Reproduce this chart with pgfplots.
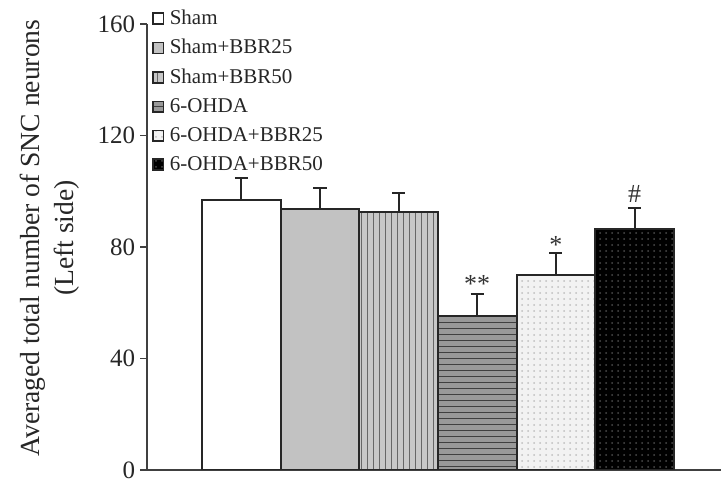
\documentclass[border=0pt]{standalone}
\usepackage{fontspec}
\setmainfont{Liberation Serif}
\usepackage{pgfplots}
\pgfplotsset{compat=1.18}
\usetikzlibrary{patterns}
\begin{document}
\begin{tikzpicture}
\begin{axis}[
  name=ax,
  width=287pt, height=223pt, scale only axis,
  xmin=-1.2, xmax=6.1, ymin=0, ymax=160,
  axis lines=left, axis line style={-, line width=0.6pt, black!75},
  xtick=\empty,
  ytick={0,40,80,120,160},
  tick align=outside, major tick length=3.5pt,
  tick style={line width=0.6pt, black!75},
  /pgf/number format/assume math mode=true,
  yticklabel style={font=\fontsize{12.5}{14}\selectfont, text=black!85, inner sep=0pt, xshift=-2.2pt},
  ylabel={Averaged total number of SNC neurons\\(Left side)},
  ylabel style={align=center, font=\fontsize{13.8}{17.3}\selectfont, text=black!85,
    at={(axis description cs:-0.105,0.52)}, anchor=south},
  ybar, bar width=1, bar shift=0pt,
  every axis plot/.append style={draw=black!85, line width=1pt},
  error bars/y dir=plus, error bars/y explicit,
  error bars/error bar style={line width=1pt, black!85},
  error bars/error mark options={rotate=90, mark size=3.3pt, line width=1pt, black!85},
  legend cell align=left,
  legend style={at={(axis description cs:0.008,1.042)}, anchor=north west,
    draw=none, fill=none, font=\fontsize{10.5}{12}\selectfont, text=black!85,
    row sep=2pt, inner sep=0pt,
    /tikz/every odd column/.append style={column sep=0.7pt}},
  legend image code/.code={\draw[#1, line width=0.8pt] (0pt,-2.7pt) rectangle (5.4pt,2.7pt);},
]
\addplot[fill=white] coordinates {(0,96.9) +- (0,7.8)};
\addlegendentry{Sham}
\addplot[fill=black!24] coordinates {(1,93.5) +- (0,7.8)};
\addlegendentry{Sham+BBR25}
\addplot[fill=black!22, postaction={pattern=vertical lines, pattern color=black!60}] coordinates {(2,92.4) +- (0,7.1)};
\addlegendentry{Sham+BBR50}
\addplot[fill=black!40, postaction={pattern=horizontal lines, pattern color=black!75}] coordinates {(3,55.4) +- (0,7.7)};
\addlegendentry{6-OHDA}
\addplot[fill=black!5, postaction={pattern=dots, pattern color=black!25}] coordinates {(4,70.0) +- (0,7.7)};
\addlegendentry{6-OHDA+BBR25}
\addplot[fill=black, postaction={pattern=dots, pattern color=black!70}] coordinates {(5,86.3) +- (0,7.6)};
\addlegendentry{6-OHDA+BBR50}
\node[font=\fontsize{13}{14}\selectfont, text=black!80] at (axis cs:3,66.8) {**};
\node[font=\fontsize{13}{14}\selectfont, text=black!80] at (axis cs:4,80.6) {*};
\node[font=\fontsize{13}{14}\selectfont, text=black!80] at (axis cs:5,99.0) {\#};
\end{axis}
\pgfresetboundingbox
\path ([shift={(-73.5pt,-7.5pt)}]ax.south west) rectangle ([shift={(0pt,12pt)}]ax.north east);
\end{tikzpicture}
\end{document}
